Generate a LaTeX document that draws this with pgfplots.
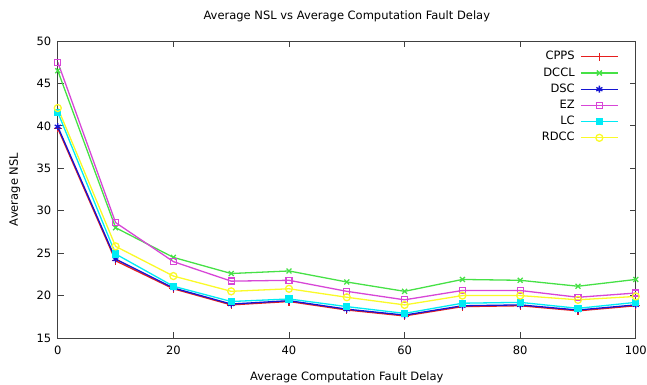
\documentclass[border=0pt]{standalone}
\usepackage{fontspec}
\setmainfont{DejaVu Sans}
\usepackage{pgfplots}
\pgfplotsset{compat=1.18}
\definecolor{cRed}{RGB}{230,30,30}
\definecolor{cGreen}{RGB}{70,225,70}
\definecolor{cBlue}{RGB}{20,20,210}
\definecolor{cMag}{RGB}{215,70,215}
\definecolor{cCyan}{RGB}{0,235,245}
\definecolor{cYel}{RGB}{250,250,40}
\begin{document}
\begin{tikzpicture}[font=\fontsize{11.5bp}{13bp}\selectfont]
\useasboundingbox (-57.8bp,-47bp) rectangle (589.2bp,338bp);
\begin{axis}[
  at={(0,0)}, anchor=south west,
  scale only axis, width=578bp, height=297bp,
  xmin=0, xmax=100, ymin=15, ymax=50,
  xtick={0,20,...,100}, ytick={15,20,...,50},
  tick align=inside, major tick length=6bp,
  axis line style={black!75, line width=0.8bp},
  tick style={black!75, line width=0.8bp},
  /pgf/number format/assume math mode=true,
  tick label style={font=\fontsize{11.5bp}{13bp}\selectfont},
  xticklabel style={yshift=-4bp},
  yticklabel style={xshift=-3bp},
  title={Average NSL vs Average Computation Fault Delay},
  title style={at={(0.5,1)}, anchor=center, yshift=19bp, font=\fontsize{11.5bp}{13bp}\selectfont},
  xlabel={Average Computation Fault Delay},
  xlabel style={at={(0.5,0)}, anchor=center, yshift=-39bp, font=\fontsize{11.5bp}{13bp}\selectfont},
  ylabel={Average NSL},
  ylabel style={at={(0,0.5)}, anchor=center, yshift=43bp, font=\fontsize{11.5bp}{13bp}\selectfont},
  legend plot pos=right,
  legend cell align=right,
  legend style={draw=none, fill=none, at={(0.9756,0.976)}, anchor=north east,
    font=\fontsize{11.5bp}{13bp}\selectfont,
    nodes={inner sep=1.5bp, text height=8bp, text depth=2bp},
    row sep=3.2bp, column sep=4bp},
  legend image code/.code={\draw[mark repeat=2,mark phase=2,#1] plot coordinates {(0bp,0bp) (18.5bp,0bp) (37bp,0bp)};},
  every axis plot/.append style={line width=1.3bp, mark options={solid}},
]
\addplot[color=cRed, mark=+, mark size=4bp] coordinates {
(0,39.7) (10,24.1) (20,20.8) (30,18.9) (40,19.3) (50,18.3) (60,17.6) (70,18.7) (80,18.8) (90,18.2) (100,18.8)};
\addlegendentry{CPPS}
\addplot[color=cGreen, mark=x, mark size=3.5bp] coordinates {
(0,46.5) (10,28.0) (20,24.5) (30,22.6) (40,22.9) (50,21.6) (60,20.5) (70,21.9) (80,21.8) (90,21.1) (100,21.9)};
\addlegendentry{DCCL}
\addplot[color=cBlue, mark=asterisk, mark size=3.5bp] coordinates {
(0,39.9) (10,24.3) (20,20.9) (30,19.0) (40,19.4) (50,18.4) (60,17.7) (70,18.8) (80,18.9) (90,18.3) (100,18.9)};
\addlegendentry{DSC}
\addplot[color=cMag, mark=square, mark size=3bp] coordinates {
(0,47.5) (10,28.6) (20,24.0) (30,21.7) (40,21.8) (50,20.5) (60,19.5) (70,20.6) (80,20.6) (90,19.8) (100,20.3)};
\addlegendentry{EZ}
\addplot[color=cCyan, mark=square*, mark size=3bp] coordinates {
(0,41.6) (10,24.9) (20,21.1) (30,19.3) (40,19.6) (50,18.7) (60,17.9) (70,19.1) (80,19.2) (90,18.5) (100,19.2)};
\addlegendentry{LC}
\addplot[color=cYel, mark=o, mark size=3.5bp] coordinates {
(0,42.1) (10,25.8) (20,22.3) (30,20.5) (40,20.8) (50,19.8) (60,18.9) (70,20.0) (80,20.0) (90,19.5) (100,19.9)};
\addlegendentry{RDCC}
\end{axis}
\end{tikzpicture}
\end{document}
